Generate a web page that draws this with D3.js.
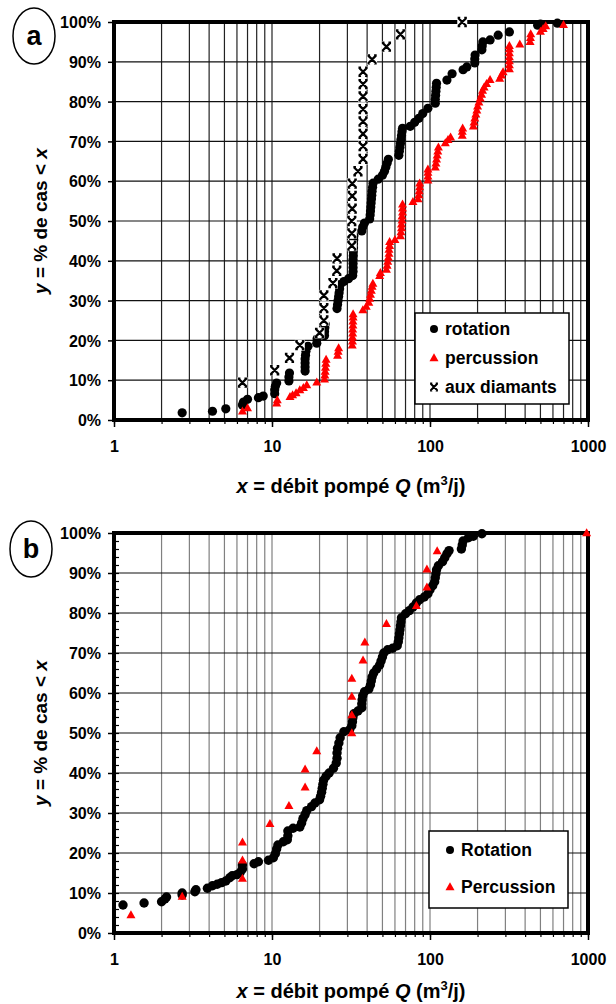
<!DOCTYPE html>
<html>
<head>
<meta charset="utf-8">
<script src="https://cdn.jsdelivr.net/npm/d3@7"></script>
<style>
  body { margin: 0; background: #fff; }
  text { font-family: Arial, "Liberation Sans", sans-serif; font-weight: bold; fill: #000; }
</style>
</head>
<body>
<script>
// axis ticks
var xTicks = [1, 10, 100, 1000];
var yTicks = [0, 10, 20, 30, 40, 50, 60, 70, 80, 90, 100];

// panel a : [debit Q (m3/j), % de cas < Q]
var rotationA = [
  [2.7,1.8],[4.2,2.2],[5.1,2.8],[6.5,3.8],[6.6,4.5],[7.0,5.2],[8.2,5.6],[8.8,6.0],
  [10.4,6.6],[10.4,7.6],[10.5,8.5],[10.7,9.3],
  [12.8,9.8],[12.8,10.8],[12.9,11.8],
  [16.2,12.3],[16.2,13.3],[16.2,14.3],[16.2,15.3],[16.3,16.3],[16.4,17.3],[16.9,18.5],
  [19.2,19.3],[19.3,20.4],
  [21.5,21.2],[21.5,22.2],[21.6,23.2],[21.7,24.1],
  [25.8,28],[26,29],[26.2,30],[26.4,31],[26.6,32],[26.8,33],[27,34],
  [28.5,34.8],[30.5,35.5],[32.4,36.3],
  [32.6,37.3],[32.6,38.3],[32.6,39.3],[32.6,40.3],[32.7,41.3],[32.7,42.3],[32.8,43.3],[32.8,44.3],[32.9,45.3],[33,46.3],
  [37,47.5],[37.5,48.5],[38.5,49.5],
  [41.5,50.5],[41.8,51.5],[42,52.5],[42.2,53.5],[42.4,54.5],[42.6,55.5],[42.8,56.5],[43,57.5],[43.3,58.5],[43.6,59.5],
  [47,60.5],[50,61.5],[51.5,62.5],[52.5,63.5],[53.5,64.5],[54.5,65.5],
  [63.5,66.5],[64,67.5],[64.5,68.5],[65,69.5],[65.5,70.5],[66,71.5],[66.5,72.5],[67,73.3],
  [75,73.8],[80,74.8],[85,75.8],[90,77],[97,78.3],
  [108,79.6],[108,80.6],[108.5,81.6],[109,82.6],[109.5,83.6],[110,84.6],
  [128,85.4],[138,87],[162,88],[171,88.7],[192,89.7],[192,90.7],[193,91.7],
  [213,93],[214,94],[216,95],[240,95.5],[270,96.7],[318,97.5],[480,99.2],[500,99.5],[640,99.7]
];
var percussionA = [
  [6.5,2.2],[7.0,3.0],[10.7,4.2],[10.8,5.0],[13,5.8],[13.5,6.3],[14.2,6.8],[15,7.5],[15.8,8.1],[16.6,8.8],
  [19.2,9.5],[21.5,10.2],[21.6,11.2],[21.7,12.2],[21.8,13.2],[21.9,14.2],[22,15.2],
  [26,16.2],[26.2,17.2],[26.4,18.1],
  [32.2,18.8],[32.3,19.8],[32.3,20.8],[32.4,21.8],[32.4,22.8],[32.5,23.8],[32.5,24.8],[32.6,25.8],[32.6,26.6],
  [37.6,27.6],[39.5,28.5],[41,29.5],[41.5,30.5],[42,31.5],[42.5,32.5],[43,33.5],[43.5,34.3],
  [48,36.2],[48.5,37],
  [53,37.8],[53.5,38.8],[54,39.8],[54.5,40.8],[55,41.8],[55,42.8],[55.5,43.8],[55.5,44.8],
  [60,45.3],
  [65,46.2],[65.5,47.2],[66,48.2],[66,49.2],[66.5,50.2],[66.5,51.2],[67,52.2],[67,53.2],[67,54.2],
  [78,54.8],[84,55.5],[85,56.5],[85.5,57.5],[86,58.5],[86,59.5],
  [97,60.2],[97,61.2],[97,62.2],[97,63],
  [108,63.5],[109,64.5],[110,65.5],[111,66.5],[112,67.5],[113,68.5],
  [125,69.6],[130,70.4],[135,71],
  [160,71.5],[160,72.5],[161,73.3],
  [188,73.8],[190,74.8],[192,75.8],[195,76.8],[198,77.8],[200,78.8],[204,79.8],[208,80.8],[212,81.8],[215,82.8],
  [220,83.6],[228,84.5],[240,85.5],[276,85.8],[283,86.6],[290,87.4],
  [318,88.2],[318,89.2],[318,90.2],[318,91.2],[318,92.2],[318,93.2],[318,94],
  [370,94.4],[430,95],[432,96],[434,97],[500,97.6],[520,98.3],[540,99],[700,99.3]
];
var diamantsA = [
  [6.5,9.4],[10.4,12.5],[12.9,15.6],[15,18.8],[20,21.9],[21.3,25],[21.3,28.1],[21.3,31.3],
  [24.3,34.4],[25.7,37.5],[25.8,40.6],[32,43.8],[32,46.9],[32,50],[32.2,53.1],[32.2,56.3],
  [32.2,59.4],[35,62.5],[37.7,65.6],[37.7,68.8],[37.7,71.9],[37.7,75],[37.7,78.1],[37.7,81.3],
  [37.7,84.4],[37.7,87.5],[43,90.6],[53,93.8],[65,96.9],[160,100]
];

// panel b
var rotationB = [
  [1.14,7],[1.55,7.5],[2.0,7.8],[2.1,8.5],[2.15,9],[2.7,9.5],[2.7,10],[3.25,10.3],[3.3,10.8],
  [3.9,11.2],[4.2,11.8],[4.5,12.2],[4.8,12.6],[5.1,13],[5.4,13.8],[5.6,14.3],[6.0,14.6],[6.3,15.2],
  [6.5,16],[6.5,17],[7.7,17.3],[8.2,17.8],[9.5,18.2],[10.2,18.8],[10.5,19.8],[10.7,21],[10.9,22],
  [11.8,22.8],[12.5,23.3],[12.6,24.3],[12.6,25.5],[13.6,26.2],[15,26.5],[15.4,27.5],[15.7,28.6],
  [16.2,29.6],[16.6,30.6],[17.8,31.6],[18.7,32.5],[20,33.3],[20.3,34.2],[20.6,35.2],[20.8,36.2],
  [21,37.2],[21.2,38.2],[22,39.2],[23,40],[24.5,41.2],[25.5,42.5],[25.8,43.7],[25.8,45],[26,46.2],
  [26.5,47.5],[27,48.8],[28.5,50.3],[31,50.8],[32,51.8],[32.3,52.8],[32.5,53.8],[33,54.8],[35,55.5],
  [37,56.3],[37,57.3],[37.2,58.3],[37.5,59.3],[38.5,60.3],[41,61],[42,62],[42.5,63],[43,64],[44,65],
  [46,66],[48,67],[49,68],[50,69],[51,70],[54,70.8],[58,71.2],[62,71.8],[63,72.8],[63.5,73.8],
  [64,74.8],[64.5,75.8],[65,76.8],[65.5,77.8],[66,78.8],[70,79.8],[74,80.6],[78,81.5],[82,82.5],
  [86,83.3],[92,84],[97,84.8],[100,85.8],[104,86.8],[107,87.8],[108,88.8],[109,89.8],[110,90.8],
  [113,91.8],[120,92.8],[124,93.8],[128,94.8],[132,95.6],[158,96],[160,97],[162,98],[175,98.8],
  [188,99.2],[213,99.8]
];
var percussionB = [
  [1.28,4.5],[2.7,9.1],[6.5,13.6],[6.5,18.2],[6.5,22.7],[9.7,27.3],[12.8,31.8],[16.2,36.4],
  [16.2,40.9],[19.2,45.5],[32,50],[32,54.5],[32,59.1],[32,63.6],[37.7,68.2],[38.7,72.7],
  [53,77.3],[82,81.8],[95.6,86.4],[95.6,90.9],[111,95.5],[980,100]
];

var legendA = ['rotation', 'percussion', 'aux diamants'];
var legendB = ['Rotation', 'Percussion'];

var width = 616, height = 1004;
var svg = d3.select('body').append('svg')
    .attr('width', width)
    .attr('height', height);

function triPath(w, h) {
  return 'M0,' + (-h * 0.6) + 'L' + (w / 2) + ',' + (h * 0.4) + 'L' + (-w / 2) + ',' + (h * 0.4) + 'Z';
}
// x marker with small serifs at its four ends
var crossPath = 'M-3.8,-3.8L3.8,3.8M3.8,-3.8L-3.8,3.8' +
  'M-4.6,-4L-2,-4M2,-4L4.6,-4M-4.6,4L-2,4M2,4L4.6,4';

function drawCircles(g, data, x, y, r) {
  g.selectAll(null).data(data).enter().append('circle')
    .attr('cx', function(d) { return x(d[0]); })
    .attr('cy', function(d) { return y(d[1]); })
    .attr('r', r)
    .attr('fill', '#000');
}
function drawTriangles(g, data, x, y, w, h) {
  g.selectAll(null).data(data).enter().append('path')
    .attr('d', triPath(w, h))
    .attr('transform', function(d) { return 'translate(' + x(d[0]) + ',' + y(d[1]) + ')'; })
    .attr('fill', '#ff0000');
}
function drawCrosses(g, data, x, y) {
  var m = g.selectAll(null).data(data).enter().append('g')
    .attr('transform', function(d) { return 'translate(' + x(d[0]) + ',' + y(d[1]) + ')'; });
  m.append('rect').attr('x', -5).attr('y', -5.5).attr('width', 10).attr('height', 11).attr('fill', '#fff');
  m.append('path').attr('d', crossPath).attr('stroke', '#000').attr('stroke-width', 2.3).attr('fill', 'none');
}

function panel(opt) {
  var g = svg.append('g');
  var x = d3.scaleLog().domain([1, 1000]).range([114, 588]);
  var y = d3.scaleLinear().domain([0, 100]).range([opt.bottom, opt.top]);
  var allX = x.ticks();

  // grid
  g.selectAll(null).data(allX).enter().append('line')
    .attr('x1', function(d) { return x(d); }).attr('x2', function(d) { return x(d); })
    .attr('y1', y(0)).attr('y2', y(100))
    .attr('stroke', opt.vGrid).attr('stroke-width', 1.2);
  g.selectAll(null).data(yTicks).enter().append('line')
    .attr('x1', x(1)).attr('x2', x(1000))
    .attr('y1', function(d) { return y(d); }).attr('y2', function(d) { return y(d); })
    .attr('stroke', '#111').attr('stroke-width', 1.2);

  // y axis
  var ya = g.append('g').attr('transform', 'translate(114,0)')
    .call(d3.axisLeft(y).tickValues(yTicks).tickSize(6).tickPadding(7).tickFormat(function(d) { return d + '%'; }));
  ya.select('.domain').remove();
  ya.selectAll('line').attr('stroke', '#000').attr('stroke-width', 1.5);
  ya.selectAll('text').style('font-size', '16px').attr('dy', '0.36em')
    .style('font-family', 'Arial, "Liberation Sans", sans-serif').style('font-weight', 'bold');

  if (opt.minorY) {
    var ym = g.append('g').attr('transform', 'translate(114,0)')
      .call(d3.axisRight(y).tickValues(d3.range(0, 101, 2)).tickSize(5).tickFormat(''));
    ym.select('.domain').remove();
    ym.selectAll('line').attr('stroke', '#000').attr('stroke-width', 1.2);
  }

  // x axis
  var xm = g.append('g').attr('transform', 'translate(0,' + y(0) + ')')
    .call(d3.axisBottom(x).tickValues(allX).tickSize(4).tickFormat(''));
  xm.select('.domain').remove();
  xm.selectAll('line').attr('stroke', '#000').attr('stroke-width', 1.2);
  var xa = g.append('g').attr('transform', 'translate(0,' + y(0) + ')')
    .call(d3.axisBottom(x).tickValues(xTicks).tickSize(7).tickFormat(d3.format('d')));
  xa.select('.domain').remove();
  xa.selectAll('line').attr('stroke', '#000').attr('stroke-width', 1.5);
  xa.selectAll('text').attr('y', 32).attr('dy', 0).style('font-size', '16px')
    .style('font-family', 'Arial, "Liberation Sans", sans-serif').style('font-weight', 'bold');

  // frame
  g.append('rect')
    .attr('x', x(1)).attr('y', y(100))
    .attr('width', x(1000) - x(1)).attr('height', y(0) - y(100))
    .attr('fill', 'none').attr('stroke', '#000').attr('stroke-width', 4);

  // titles
  var mid = (opt.top + opt.bottom) / 2;
  var yt = g.append('text')
    .attr('transform', 'translate(47,' + mid + ') rotate(-90)')
    .attr('text-anchor', 'middle').style('font-size', '19px');
  yt.append('tspan').style('font-style', 'italic').text('y');
  yt.append('tspan').text(' = % de cas < ');
  yt.append('tspan').style('font-style', 'italic').text('x');

  var xt = g.append('text')
    .attr('x', 351).attr('y', opt.titleY)
    .attr('text-anchor', 'middle').style('font-size', '20px');
  xt.append('tspan').style('font-style', 'italic').text('x');
  xt.append('tspan').text(' = débit pompé ');
  xt.append('tspan').style('font-style', 'italic').text('Q');
  xt.append('tspan').text(' (m');
  xt.append('tspan').attr('dy', -8).style('font-size', '13px').text('3');
  xt.append('tspan').attr('dy', 8).text('/j)');

  // panel letter
  g.append('ellipse').attr('cx', opt.lx).attr('cy', opt.ly).attr('rx', 21).attr('ry', 28)
    .attr('fill', '#fff').attr('stroke', '#000').attr('stroke-width', 1.5);
  g.append('text').attr('x', opt.lx).attr('y', opt.ly + 9)
    .attr('text-anchor', 'middle').style('font-size', '27px').text(opt.letter);

  return { g: g, x: x, y: y };
}

// ---- panel a
var pa = panel({ top: 22, bottom: 420, titleY: 493, vGrid: '#222', minorY: false, letter: 'a', lx: 34, ly: 36 });
var ga = pa.g.append('g');
drawCircles(ga, rotationA, pa.x, pa.y, 4.6);
drawTriangles(ga, percussionA, pa.x, pa.y, 9, 8);
drawCrosses(ga, diamantsA, pa.x, pa.y);

var la = svg.append('g').attr('transform', 'translate(415,313)');
la.append('rect').attr('width', 154).attr('height', 91)
  .attr('fill', '#fff').attr('stroke', '#000').attr('stroke-width', 1.5);
la.selectAll(null).data(legendA).enter().append('text')
  .attr('x', 30).attr('y', function(d, i) { return 22 + i * 29; })
  .style('font-size', '17.5px').text(function(d) { return d; });
la.append('circle').attr('cx', 19).attr('cy', 16).attr('r', 4).attr('fill', '#000');
la.append('path').attr('d', triPath(9, 8)).attr('transform', 'translate(19,45)').attr('fill', '#ff0000');
la.append('path').attr('d', crossPath).attr('transform', 'translate(19,74) scale(0.85)')
  .attr('stroke', '#000').attr('stroke-width', 2.4).attr('fill', 'none');

// ---- panel b
var pb = panel({ top: 533, bottom: 933, titleY: 998, vGrid: '#808080', minorY: true, letter: 'b', lx: 31, ly: 549 });
var gb = pb.g.append('g');
drawCircles(gb, rotationB, pb.x, pb.y, 4.7);
drawTriangles(gb, percussionB, pb.x, pb.y, 9, 8);

var lb = svg.append('g').attr('transform', 'translate(429,831)');
lb.append('rect').attr('width', 139).attr('height', 77)
  .attr('fill', '#fff').attr('stroke', '#000').attr('stroke-width', 1.5);
lb.selectAll(null).data(legendB).enter().append('text')
  .attr('x', 32).attr('y', function(d, i) { return 25 + i * 37; })
  .style('font-size', '17.5px').text(function(d) { return d; });
lb.append('circle').attr('cx', 21).attr('cy', 19).attr('r', 4).attr('fill', '#000');
lb.append('path').attr('d', triPath(9, 8)).attr('transform', 'translate(21,56)').attr('fill', '#ff0000');
</script>
</body>
</html>
